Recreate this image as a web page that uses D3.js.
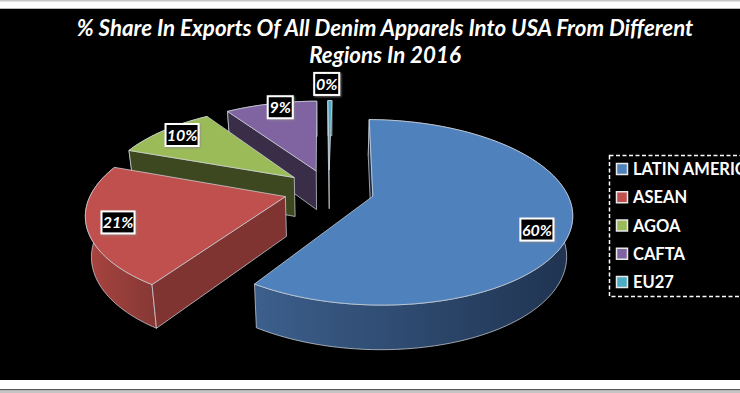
<!DOCTYPE html>
<html>
<head>
<meta charset="utf-8">
<script src="https://cdn.jsdelivr.net/npm/d3@7"></script>
<style>
  html, body { margin: 0; padding: 0; background: #fff; overflow: hidden; }
  svg { display: block; }
  text { font-family: Lato, "Open Sans", sans-serif; }
</style>
</head>
<body>
<svg id="chart" width="740" height="393"></svg>
<script>
// Data
const regions = ["LATIN AMERICA", "ASEAN", "AGOA", "CAFTA", "EU27"];
const shares = [59, 21.3, 10.1, 9.2, 0.4];
const shareLabels = ["60%", "21%", "10%", "9%", "0%"];
const titleLines = ["% Share In Exports Of All Denim Apparels Into USA From Different", "Regions In 2016"];

// Colours per region: top face, start face, outer wall left and right
const topColors = ["#4f81bd", "#c0504d", "#9bbb59", "#8064a2", "#4bacc6"];
const faceColors = ["#1b2c42", "#7f3432", "#3d4821", "#392d48", "#1d4a56"];
const wallLeft = ["#3c5f8c", "#a9443f", "#3d4821", "#392d48", "#1d4a56"];
const wallRight = ["#1f3350", "#853835", "#3d4821", "#392d48", "#1d4a56"];

// Label placement along each slice (radius, turn in degrees)
const labelRadius = [0.85, 0.85, 0.87, 0.93, 1.29];
const labelTurn = [7, -0.5, 1.5, 2.5, -1];

// Pie layout
const firstAngle = 1 * Math.PI / 180;
const explode = 0.235;
const perspective = 0.172;
const depth = 39.5;

const svg = d3.select("#chart");
const defs = svg.append("defs");

const shadow = defs.append("filter").attr("id", "soft")
  .attr("x", "-30%").attr("y", "-30%").attr("width", "160%").attr("height", "160%");
shadow.append("feDropShadow").attr("dx", 1).attr("dy", 1).attr("stdDeviation", 1)
  .attr("flood-color", "#888").attr("flood-opacity", 0.8);

// Frame of the pasted picture
svg.append("rect").attr("width", 740).attr("height", 393).attr("fill", "#fff");
svg.append("rect").attr("width", 740).attr("height", 1.5).attr("fill", "#c8c8c8");
svg.append("rect").attr("y", 8).attr("width", 740).attr("height", 1).attr("fill", "#bbb");
svg.append("rect").attr("y", 9).attr("width", 740).attr("height", 371).attr("fill", "#000");
svg.append("rect").attr("y", 389).attr("width", 740).attr("height", 1.5).attr("fill", "#555");
svg.append("rect").attr("y", 390.5).attr("width", 740).attr("height", 2.5).attr("fill", "#c4c4c4");

// World units to screen, before perspective
const xScale = d3.scaleLinear().domain([-1, 1]).range([329 - 193, 329 + 193]);
const yScale = d3.scaleLinear().domain([-1, 1]).range([190 - 87.8, 190 + 87.8]);

const project = (p, low) => {
  const s = 1 / (1 - perspective * p[1]);
  const sx = 329 + (xScale(p[0]) - 329) * s * (low ? 0.975 : 1);
  const sy = 190 + (yScale(p[1]) - 190) * s + (low ? depth * Math.pow(s, 0.6) : 0);
  return [sx, sy];
};

const pie = d3.pie().sort(null)
  .startAngle(firstAngle)
  .endAngle(firstAngle + 2 * Math.PI);
const slices = pie(shares).map((d, i) => {
  const mid = (d.startAngle + d.endAngle) / 2;
  const apex = [explode * Math.sin(mid), -explode * Math.cos(mid)];
  const onRim = (a, r = 1) => [apex[0] + r * Math.sin(a), apex[1] - r * Math.cos(a)];
  const steps = Math.max(2, Math.ceil((d.endAngle - d.startAngle) * 40));
  const rim = d3.range(steps + 1).map(k => onRim(d.startAngle + (d.endAngle - d.startAngle) * k / steps));
  return { i, mid, apex, rim, onRim };
});

const line = d3.line();

slices.forEach(s => {
  const g = defs.append("linearGradient").attr("id", `wall${s.i}`)
    .attr("gradientUnits", "objectBoundingBox");
  g.append("stop").attr("offset", "0%").attr("stop-color", wallLeft[s.i]);
  g.append("stop").attr("offset", "100%").attr("stop-color", wallRight[s.i]);
});

// Far slices first, blue goes last since it is in front of the thin one
const order = [4, 3, 2, 1, 0];
const edge = "#d5dbe3";

order.forEach(i => {
  const s = slices[i];
  const g = svg.append("g");
  const topRim = s.rim.map(p => project(p));
  const lowRim = s.rim.map(p => project(p, true));

  // outer wall
  g.append("path")
    .attr("d", line(topRim.concat(lowRim.slice().reverse())) + "Z")
    .attr("fill", `url(#wall${i})`)
    .attr("stroke", edge).attr("stroke-width", 0.7);

  // face along the start edge
  const face = [project(s.apex), topRim[0], lowRim[0], project(s.apex, true)];
  g.append("path")
    .attr("d", line(face) + "Z")
    .attr("fill", faceColors[i])
    .attr("stroke", edge).attr("stroke-width", 0.7);

  // top
  g.append("path")
    .attr("d", line([project(s.apex)].concat(topRim)) + "Z")
    .attr("fill", topColors[i])
    .attr("stroke", edge).attr("stroke-width", 0.7);
});

// Value labels
slices.forEach(s => {
  const a = s.mid + labelTurn[s.i] * Math.PI / 180;
  const c = project(s.onRim(a, labelRadius[s.i]));
  const txt = shareLabels[s.i];
  const w = txt.length > 2 ? 33 : 25;
  const g = svg.append("g").attr("transform", `translate(${c[0]},${c[1]})`);
  g.append("rect")
    .attr("x", -w / 2).attr("y", -11).attr("width", w).attr("height", 22)
    .attr("fill", "#000").attr("stroke", "#fff").attr("stroke-width", 2)
    .attr("filter", "url(#soft)");
  g.append("text")
    .attr("text-anchor", "middle").attr("y", 6)
    .attr("fill", "#fff").attr("font-size", 16)
    .attr("font-weight", 700).attr("font-style", "italic")
    .text(txt);
});

// Title
svg.append("g").selectAll("text").data(titleLines).join("text")
  .attr("x", 385)
  .attr("y", (d, i) => 35.5 + i * 27)
  .attr("text-anchor", "middle")
  .attr("fill", "#fff").attr("font-size", 22.3)
  .attr("font-weight", 700).attr("font-style", "italic")
  .text(d => d);

// Legend, it runs off the right side of the picture
const legendY = d3.scalePoint().domain(regions).range([169, 282]);
svg.append("rect")
  .attr("x", 609.5).attr("y", 155.5).attr("width", 160).attr("height", 141)
  .attr("fill", "#000").attr("stroke", "#fff").attr("stroke-width", 1.5)
  .attr("stroke-dasharray", "4 2.5");
const legend = svg.append("g").selectAll("g").data(regions).join("g")
  .attr("transform", d => `translate(0,${legendY(d)})`);
legend.append("rect")
  .attr("x", 616.5).attr("y", -5.5).attr("width", 11).attr("height", 11)
  .attr("fill", (d, i) => topColors[i])
  .attr("stroke", "#e8e8e8").attr("stroke-width", 1.5);
legend.append("text")
  .attr("x", 633).attr("y", 6)
  .attr("fill", "#fff").attr("font-size", 16.5).attr("font-weight", 700)
  .text(d => d);
</script>
</body>
</html>
